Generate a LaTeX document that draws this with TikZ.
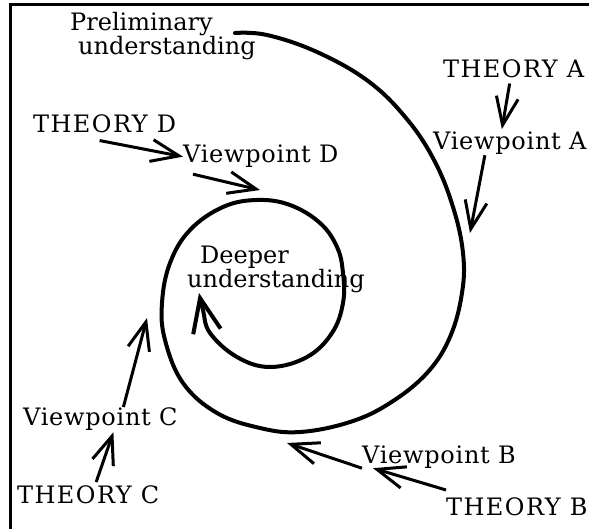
\documentclass[tikz,border=0pt]{standalone}
\usepackage{fontspec}
\setmainfont{DejaVu Serif}
\usetikzlibrary{arrows.meta}

\begin{document}
\begin{tikzpicture}[
    x=1pt, y=-1pt,
    lbl/.style={anchor=base west, inner sep=0pt, align=left, font=\fontsize{24}{21}\selectfont},
    theory/.style={lbl, font=\fontsize{24}{21}\selectfont\addfontfeature{LetterSpace=6}},
    view/.style={lbl, font=\fontsize{24}{21}\selectfont\addfontfeature{LetterSpace=3}},
    arrow/.style={-{Straight Barb[length=28pt, width=22pt]}, line width=3pt},
    curve/.style={line width=4pt, line cap=round}
]
\useasboundingbox (0,0) rectangle (589,529);
\draw[line width=3pt] (10,529) -- (10,5) -- (589,5);

% labels
\node[lbl] (pre) at (70,55) {Preliminary\\\hspace*{8pt}understanding};
\node[lbl] (deep) at (187,288) {\hspace*{13pt}Deeper\\understanding};
\node[theory] (tha) at (443,78) {THEORY A};
\node[view] (vpa) at (433,150) {Viewpoint A};
\node[theory] (thb) at (446,515) {THEORY B};
\node[view] (vpb) at (362,463) {Viewpoint B};
\node[theory] (thc) at (17,503) {THEORY C};
\node[view] (vpc) at (23,425) {Viewpoint C};
\node[theory] (thd) at (33,133) {THEORY D};
\node[view] (vpd) at (183,163) {Viewpoint D};

% the spiral
\draw[curve, -{Straight Barb[length=34pt, width=28pt]}] plot[smooth, tension=0.65] coordinates {
    (235,33) (267,35) (317,52) (368,81) (406,118) (434,160) (453,207) (463,253)
    (462,293) (450,337) (427,373) (390,403) (350,422) (300,432) (260,428)
    (217,413) (183,383) (165,340) (162,303) (170,263) (190,230) (223,207)
    (257,200) (290,205) (320,223) (337,247) (343,273) (343,303) (332,333)
    (307,357) (270,367) (237,357) (210,333) (203,310) (199,293)};

% where the viewpoints meet the spiral
\coordinate (ca) at (470,233);
\coordinate (cb) at (287,443);
\coordinate (cc) at (147,318);
\coordinate (cd) at (260,190);

\draw[arrow] ([xshift=-4pt,yshift=-5pt]tha.south) -- ([xshift=-8pt,yshift=3pt]vpa.north);
\draw[arrow] ([xshift=-25pt]vpa.south) -- (ca);
\draw[arrow] ([yshift=7pt]thb.north west) -- ([xshift=11pt]vpb.south west);
\draw[arrow] (vpb.south west) -- (cb);
\draw[arrow] ([xshift=8pt,yshift=3pt]thc.north) -- ([xshift=13pt,yshift=-2pt]vpc.south);
\draw[arrow] ([xshift=23pt]vpc.north) -- (cc);
\draw[arrow] ([xshift=-5pt,yshift=-7pt]thd.south) -- (vpd.west);
\draw[arrow] ([xshift=10pt,yshift=-6pt]vpd.south west) -- (cd);
\end{tikzpicture}
\end{document}
